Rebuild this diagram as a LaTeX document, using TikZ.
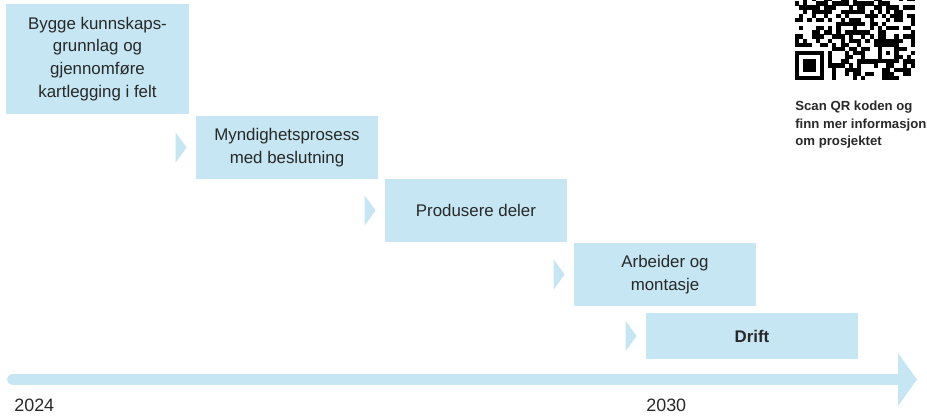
\documentclass[tikz,border=0pt]{standalone}
\usepackage{fontspec}
\setmainfont{Liberation Sans}
\definecolor{phaseblue}{RGB}{197,230,242}
\definecolor{textgray}{RGB}{40,40,40}
\begin{document}
\begin{tikzpicture}[x=0.02cm, y=-0.02cm,
    phase/.style={fill=phaseblue, text=textgray, align=center, inner sep=0pt,
      font=\fontsize{9.6}{13}\selectfont},
    marker/.style={fill=phaseblue},
    year/.style={text=textgray, anchor=base west, inner sep=0pt,
      font=\fontsize{10.2}{12}\selectfont},
    module/.style={fill=black}]
  \useasboundingbox (0,0) rectangle (927,416);
  \node[phase, minimum width=3.66cm, minimum height=2.2cm] (b1) at (97.5,59)
    {Bygge kunnskaps-\\grunnlag og\\gjennomføre\\kartlegging i felt};
  \node[phase, minimum width=3.64cm, minimum height=1.26cm] (b2) at (287,147.5)
    {Myndighetsprosess\\med beslutning};
  \node[phase, minimum width=3.64cm, minimum height=1.26cm] (b3) at (476,210.5)
    {Produsere deler};
  \node[phase, minimum width=3.64cm, minimum height=1.26cm] (b4) at (665,274.5)
    {Arbeider og\\montasje};
  \node[phase, minimum width=4.24cm, minimum height=0.92cm] (b5) at (752,336)
    {\bfseries Drift};
  \foreach \b in {b2,b3,b4,b5}
    \fill[marker] ([xshift=-0.4cm, yshift=0.3cm]\b.west) -- ++(11,15) -- ++(-11,15) -- cycle;

  \coordinate (t0) at (12.5,379.5);
  \coordinate (t1) at (898,379.5);
  \draw[phaseblue, line width=0.22cm, line cap=round] (t0) -- (t1);
  \fill[phaseblue] (t1) ++(0,-26.5) -- ++(19,26.5) -- ++(-19,26.5) -- cycle;
  \node[year] (y2024) at (14,411) {2024};
  \node[year] (y2030) at (646,411) {2030};

  \begin{scope}
    \clip (790,0) rectangle (920,82);
    \pgfmathsetseed{11}
    \foreach \r in {9,...,28}{
      \foreach \c in {0,...,28}{
        \pgfmathtruncatemacro\qrskip{(\r>20 && \c<8) || (\r>19 && \r<25 && \c>19 && \c<25) || \c==6}
        \pgfmathtruncatemacro\qron{rnd<0.5 ? 1 : 0}
        \ifnum\qrskip=0
          \ifnum\qron=1
            \fill[module] ({795+\c*4.14},{80-(29-\r)*4.14}) rectangle ++(4.2,4.2);
          \fi
        \fi
      }
    }
    \foreach \r in {8,10,...,20}
      \fill[module] ({795+6*4.14},{80-(29-\r)*4.14}) rectangle ++(4.2,4.2);
    \fill[module] (795,{80-7*4.14}) rectangle ++(28.98,28.98);
    \fill[white] ({795+4.14},{80-6*4.14}) rectangle ++(20.7,20.7);
    \fill[module] ({795+2*4.14},{80-5*4.14}) rectangle ++(12.42,12.42);
    \fill[module] ({795+20*4.14},{80-9*4.14}) rectangle ++(20.7,20.7);
    \fill[white] ({795+21*4.14},{80-8*4.14}) rectangle ++(12.42,12.42);
    \fill[module] ({795+22*4.14},{80-7*4.14}) rectangle ++(4.14,4.14);
  \end{scope}
  \node[anchor=north west, align=left, inner sep=0pt, text=textgray,
    font=\bfseries\fontsize{7.5}{9.9}\selectfont] (qrtext) at (795,101)
    {Scan QR koden og\\finn mer informasjon\\om prosjektet};
\end{tikzpicture}
\end{document}
